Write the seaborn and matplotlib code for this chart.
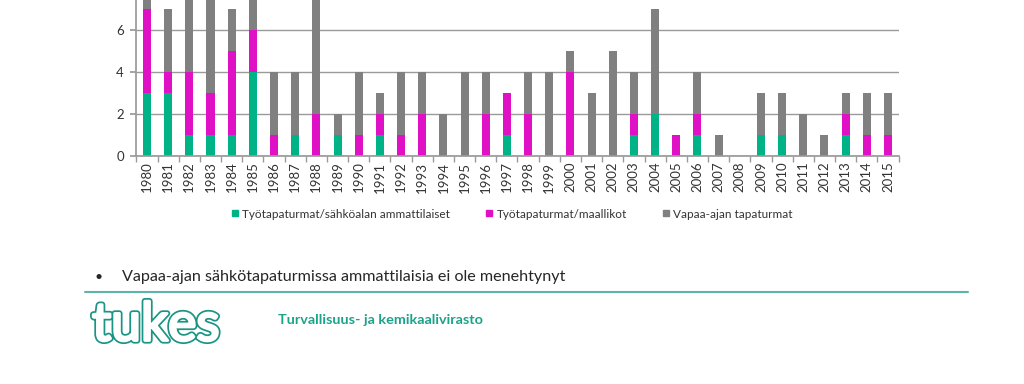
import numpy as np
import pandas as pd
import matplotlib
matplotlib.use("Agg")
import matplotlib.pyplot as plt
import matplotlib.patheffects as pe
from matplotlib.lines import Line2D
import seaborn as sns

# Data (deaths per year, by group)
years = list(range(1980, 2016))
ammattilaiset = [3, 3, 1, 1, 1, 4, 0, 1, 0, 1, 0, 1, 0, 0, 0, 0, 0, 1, 0, 0,
                 0, 0, 0, 1, 2, 0, 1, 0, 0, 1, 1, 0, 0, 1, 0, 0]
maallikot = [4, 1, 3, 2, 4, 2, 1, 0, 2, 0, 1, 1, 1, 2, 0, 0, 2, 2, 2, 0,
             4, 0, 0, 1, 0, 1, 1, 0, 0, 0, 0, 0, 0, 1, 1, 1]
vapaa_aika = [2, 3, 5, 6, 2, 3, 3, 3, 7, 1, 3, 1, 3, 2, 2, 4, 2, 0, 2, 4,
              1, 3, 5, 2, 5, 0, 2, 1, 0, 2, 2, 2, 1, 1, 2, 2]
series_labels = ["Työtapaturmat/sähköalan ammattilaiset",
                 "Työtapaturmat/maallikot",
                 "Vapaa-ajan tapaturmat"]

green = "#00B386"
magenta = "#E010C4"
gray = "#808080"
teal = "#1A9484"

df = pd.DataFrame({"year": [str(y) for y in years],
                   "amm": ammattilaiset, "maal": maallikot, "vapaa": vapaa_aika})
df["lvl1"] = df["amm"]
df["lvl2"] = df["amm"] + df["maal"]
df["lvl3"] = df["lvl2"] + df["vapaa"]

sns.set_theme(style="white")
plt.rcParams["font.family"] = ["Lato", "DejaVu Sans"]

fig = plt.figure(figsize=(10.24, 3.84), dpi=100)
ax = fig.add_axes([0.1332, 0.59375, 0.7443, 0.40625])

# stacked bars: draw totals first, then lower layers on top
bw = 0.38
sns.barplot(data=df, x="year", y="lvl3", color=gray, width=bw, saturation=1, ax=ax)
sns.barplot(data=df, x="year", y="lvl2", color=magenta, width=bw, saturation=1, ax=ax)
sns.barplot(data=df, x="year", y="lvl1", color=green, width=bw, saturation=1, ax=ax)
for p in ax.patches:
    p.set_edgecolor("none")

ax.set_ylim(0, 7.43)
ax.set_xlim(-0.5, len(years) - 0.5)
ax.set_yticks([0, 2, 4, 6])
ax.yaxis.grid(True, color="#9a9a9a", linewidth=1)
ax.set_axisbelow(True)
ax.set_xlabel("")
ax.set_ylabel("")
for s in ["top", "right"]:
    ax.spines[s].set_visible(False)
ax.spines["left"].set_color("#9a9a9a")
ax.spines["bottom"].set_color("#9a9a9a")
ax.tick_params(axis="y", length=4, color="#9a9a9a", labelsize=9.5, pad=5, left=True,
               labelcolor="#333333")
ax.set_xticks(range(len(years)))
ax.set_xticklabels([str(y) for y in years], rotation=90, fontsize=9.5, color="#333333")
ax.tick_params(axis="x", which="major", length=0, pad=4)
ax.set_xticks(np.arange(-0.5, len(years), 1), minor=True)
ax.tick_params(axis="x", which="minor", length=4, color="#9a9a9a", bottom=True)

handles = [Line2D([], [], linestyle="none", marker="s", markersize=4, color=c)
           for c in [green, magenta, gray]]
fig.legend(handles, series_labels, loc="center", bbox_to_anchor=(0.5, 1 - 214 / 384),
           ncol=3, frameon=False, fontsize=8.5, handlelength=0.6, handletextpad=0.3,
           columnspacing=3.0, labelcolor="#333333")

# slide text below the chart
fig.text(95 / 1024, 1 - 277 / 384, "•", fontsize=10, va="center", ha="left")
fig.text(122 / 1024, 1 - 277 / 384, "Vapaa-ajan sähkötapaturmissa ammattilaisia ei ole menehtynyt",
         fontsize=11.6, va="center", ha="left")
fig.add_artist(Line2D([85 / 1024, 968 / 1024], [1 - 292 / 384, 1 - 292 / 384],
                      color="#5DB5A8", linewidth=1.5))
logo = fig.text(92 / 1024, 1 - 326 / 384, "tukes", fontsize=38.5, va="center", ha="left",
                color="white")
logo.set_path_effects([pe.Stroke(linewidth=4.5, foreground=teal),
                       pe.Stroke(linewidth=2, foreground="white"), pe.Normal()])
fig.text(278 / 1024, 1 - 320 / 384, "Turvallisuus- ja kemikaalivirasto", fontsize=10.4,
         fontweight="bold", color="#1BA38A", va="center", ha="left")

fig.savefig("out.png", dpi=100)
